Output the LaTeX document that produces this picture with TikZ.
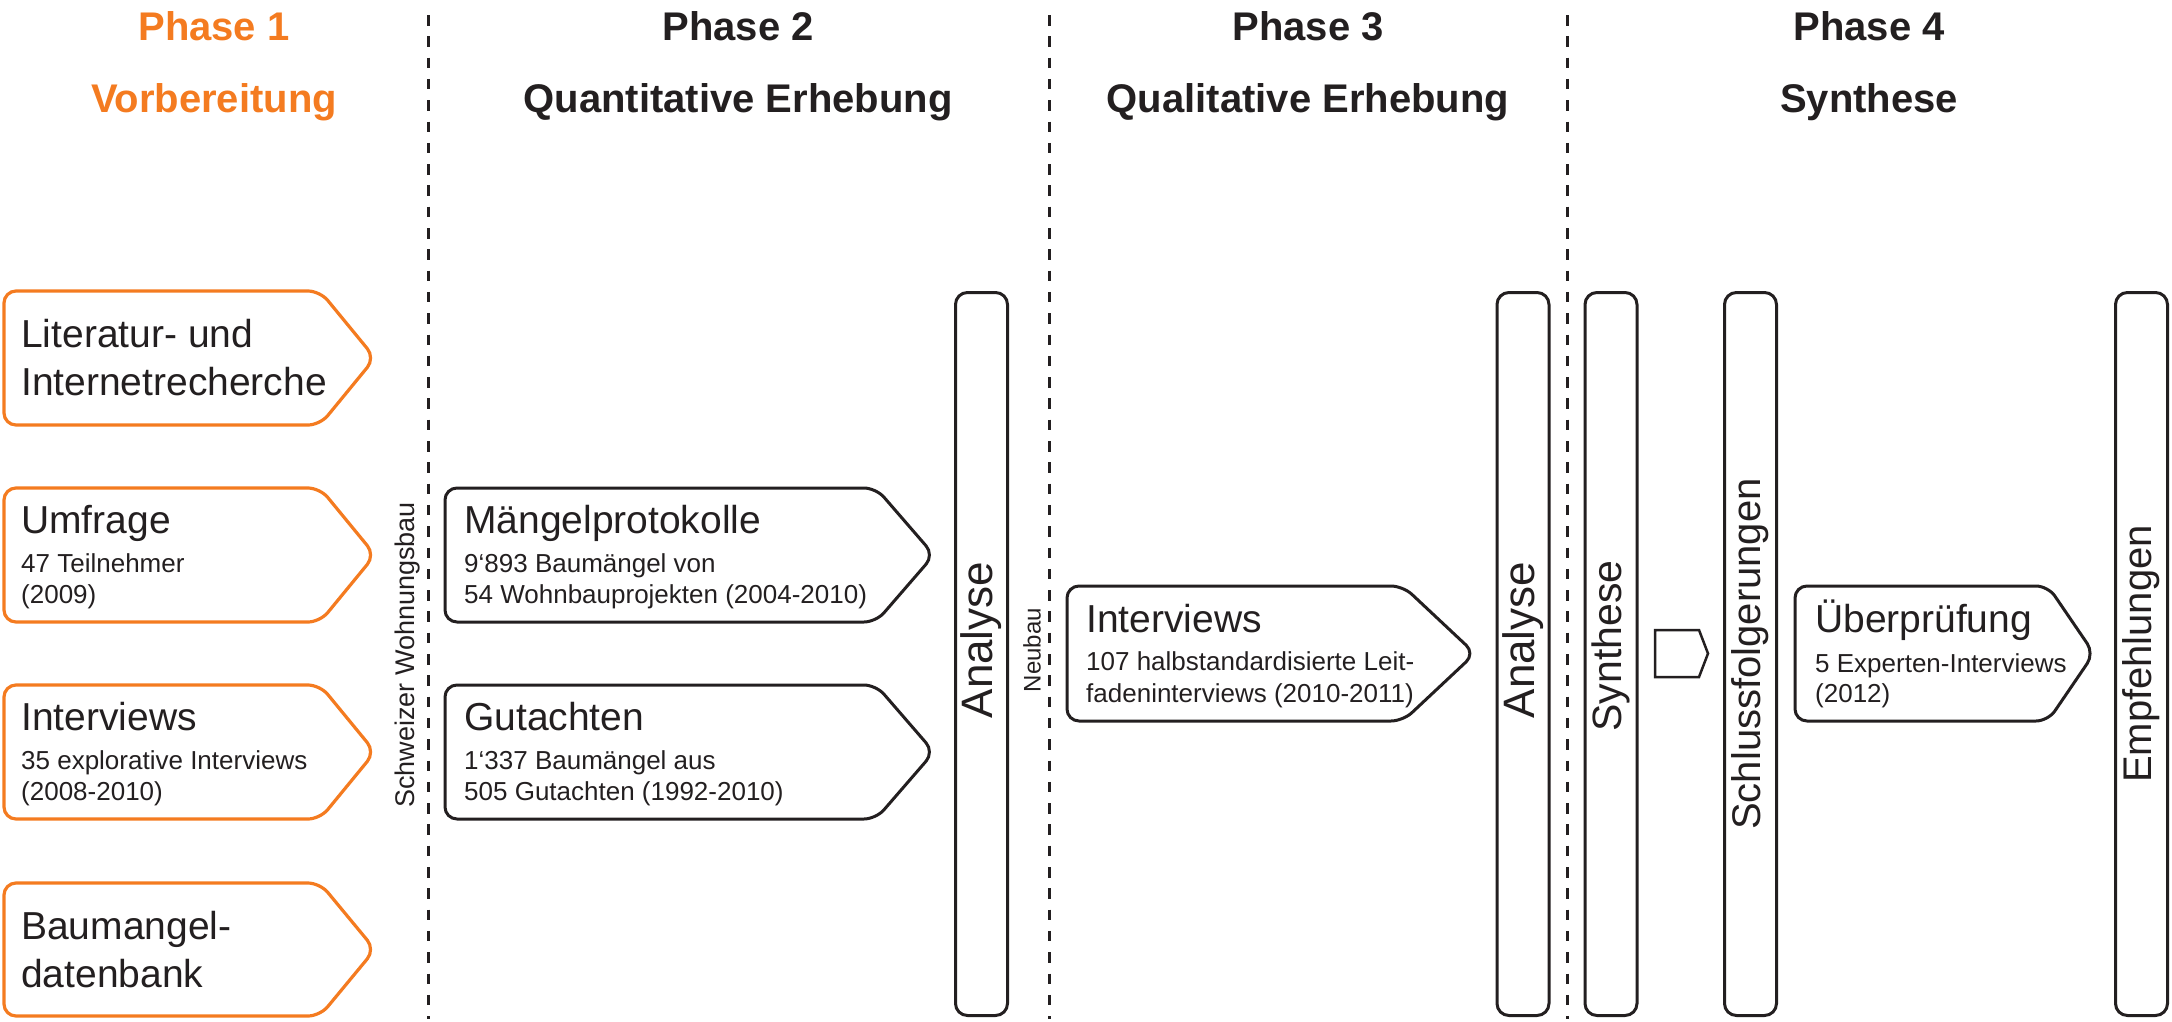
\documentclass[tikz,border=0pt]{standalone}
\usepackage{fontspec}
\setmainfont{Liberation Sans}
\definecolor{orng}{RGB}{244,123,32}
\definecolor{ink}{RGB}{35,31,32}
\newcommand{\pfeilbox}[6]{%
  \draw[#1] (#2,{(#3+#6)/2}) -- (#2,#3) -- (#4,#3) -- (#5,{(#3+#6)/2}) -- (#4,#6) -- (#2,#6) -- cycle;}
\tikzset{
  obox/.style={draw=orng, line width=3.2pt, rounded corners=12pt},
  kbox/.style={draw=ink, line width=3pt, rounded corners=12pt},
  bar/.style={draw=ink, line width=3pt, rounded corners=12pt, rotate=90,
    minimum width=723pt, minimum height=52pt, inner sep=0pt,
    font=\fontsize{40}{48}\selectfont, text=ink},
  bartext/.style={font=\fontsize{44}{52}\selectfont, text=ink, rotate=90, inner sep=0pt},
  head/.style={font=\bfseries\fontsize{40}{48}\selectfont, anchor=base, text=ink, inner sep=0pt},
  ttl/.style={font=\fontsize{39}{47}\selectfont, anchor=base west, inner sep=0pt, text=ink},
  sub/.style={font=\fontsize{26}{31}\selectfont, anchor=base west, inner sep=0pt, text=ink},
  side/.style={font=\fontsize{27}{32}\selectfont, rotate=90, text=ink, inner sep=0pt},
  sep/.style={draw=ink, line width=3pt, dash pattern=on 10.5pt off 10.8pt},
}
\begin{document}
\begin{tikzpicture}[x=1pt,y=-1pt]
\useasboundingbox (0,0) rectangle (2172,1021);

% headings
\node[head, text=orng] (p1) at (214,40) {Phase 1};
\node[head, text=orng] (p1s) at (214,112) {Vorbereitung};
\node[head] (p2) at (738,40) {Phase 2};
\node[head] (p2s) at (738,112) {Quantitative Erhebung};
\node[head] (p3) at (1308,40) {Phase 3};
\node[head] (p3s) at (1308,112) {Qualitative Erhebung};
\node[head] (p4) at (1869,40) {Phase 4};
\node[head] (p4s) at (1869,112) {Synthese};

% separators
\coordinate (d1t) at (428,15);  \coordinate (d1b) at (428,1019);
\coordinate (d2t) at (1049,15); \coordinate (d2b) at (1049,1019);
\coordinate (d3t) at (1567,15); \coordinate (d3b) at (1567,1019);
\draw[sep] (d1t) -- (d1b);
\draw[sep] (d2t) -- (d2b);
\draw[sep] (d3t) -- (d3b);

% phase 1 boxes
\pfeilbox{obox}{4}{291}{320}{375}{425}
\pfeilbox{obox}{4}{488}{320}{375}{622}
\pfeilbox{obox}{4}{685}{320}{375}{819}
\pfeilbox{obox}{4}{883}{320}{375}{1016}

\node[ttl] (lit1) at (21,347) {Literatur- und};
\node[ttl] (lit2) at (21,395) {Internetrecherche};
\node[ttl] (umf) at (21,533) {Umfrage};
\node[sub] (umfa) at (21,572) {47 Teilnehmer};
\node[sub] (umfb) at (21,603) {(2009)};
\node[ttl] (int1) at (21,730) {Interviews};
\node[sub] (int1a) at (21,769) {35 explorative Interviews};
\node[sub] (int1b) at (21,800) {(2008-2010)};
\node[ttl] (bdb1) at (21,939) {Baumangel-};
\node[ttl] (bdb2) at (21,987) {datenbank};

\node[side] (swb) at (408,655) {Schweizer Wohnungsbau};

% phase 2
\pfeilbox{kbox}{445}{488}{876}{934}{622}
\pfeilbox{kbox}{445}{685}{876}{934}{819}
\node[ttl] (mp) at (464,533) {Mängelprotokolle};
\node[sub] (mpa) at (464,572) {9‘893 Baumängel von};
\node[sub] (mpb) at (464,603) {54 Wohnbauprojekten (2004-2010)};
\node[ttl] (gu) at (464,730) {Gutachten};
\node[sub] (gua) at (464,769) {1‘337 Baumängel aus};
\node[sub] (gub) at (464,800) {505 Gutachten (1992-2010)};

\node[bar] (an1) at (981.5,654) {};
\node[bartext] (an1t) at (981.5,640) {Analyse};
\node[side, font=\fontsize{24}{29}\selectfont] (nb) at (1032,650) {Neubau};

% phase 3
\pfeilbox{kbox}{1067}{586}{1403}{1475}{721}
\node[ttl] (int2) at (1086,632) {Interviews};
\node[sub] (int2a) at (1086,670) {107 halbstandardisierte Leit-};
\node[sub] (int2b) at (1086,702) {fadeninterviews (2010-2011)};
\node[bar] (an2) at (1523,654) {};
\node[bartext] (an2t) at (1523,640) {Analyse};

% phase 4
\node[bar] (syn) at (1611,654) {};
\node[bartext, font=\fontsize{41}{49}\selectfont] (synt) at (1611,646) {Synthese};
\draw[draw=ink, line width=2.5pt] (1655,653.5) -- (1655,630) -- (1699,630) -- (1708,653.5) -- (1699,677) -- (1655,677) -- cycle;
\node[bar] (sch) at (1750.5,654) {Schlussfolgerungen};
\pfeilbox{kbox}{1795}{586}{2048}{2094}{721}
\node[ttl] (ueb) at (1815,632) {Überprüfung};
\node[sub] (ueba) at (1815,672) {5 Experten-Interviews};
\node[sub] (uebb) at (1815,702) {(2012)};
\node[bar] (emp) at (2141.5,654) {Empfehlungen};
\end{tikzpicture}
\end{document}
